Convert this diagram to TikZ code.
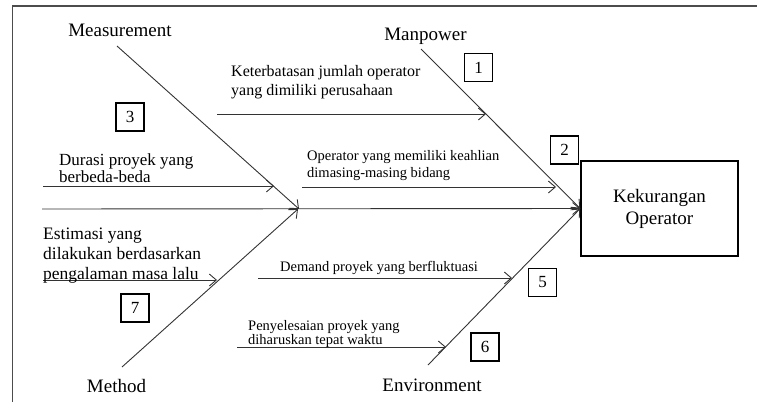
\documentclass[tikz,border=0pt]{standalone}
\usepackage{fontspec}
\setmainfont{Liberation Serif}
\usetikzlibrary{arrows.meta}
\begin{document}
\begin{tikzpicture}[x=1pt,y=-1pt,
  bone/.style={draw=black!80, line width=0.9pt},
  arr/.style={bone, -{Straight Barb[length=7pt,width=12pt]}},
  cat/.style={font=\fontsize{19}{22}\selectfont, inner sep=0pt, anchor=base},
  lbl/.style={inner sep=0pt, align=left, anchor=west},
  numbox/.style={draw, line width=1.3pt, minimum width=28pt, minimum height=28pt, inner sep=0pt, font=\fontsize{17}{17}\selectfont},
]
\useasboundingbox (0,0) rectangle (757,402);
% frame
\draw[line width=1.5pt, black!70] (12.5,402) -- (12.5,6) -- (757,6);

% effect box
\node[draw, line width=1.5pt, minimum width=157pt, minimum height=95pt, inner sep=0pt,
      align=center, font=\fontsize{19}{22}\selectfont] (effect) at (659.5,208.5) {Kekurangan\\Operator};

% category labels
\node[cat] (lmeas) at (120,36) {Measurement};
\node[cat] (lman) at (425.5,40) {Manpower};
\node[cat] (lmeth) at (116.5,392.5) {Method};
\node[cat] (lenv) at (432,391) {Environment};

% bone coordinates
\coordinate (s0) at (42,209);
\coordinate (meas0) at (117,46);
\coordinate (meas1) at (299,209);
\coordinate (meth0) at (122,367);
\coordinate (meth1) at (298,209);
\coordinate (man0) at (421,49);
\coordinate (env0) at (428,365);

% spine and bones
\draw[arr] (s0) -- (effect.west);
\draw[arr] (meas0) -- (meas1);
\draw[arr] (meth0) -- (meth1);
\draw[arr] (man0) -- (effect.west);
\draw[arr] (env0) -- (effect.west);

% cause arrows
\coordinate (k0) at (217,114);  \coordinate (k1) at (486,114);
\coordinate (o0) at (302,187);  \coordinate (o1) at (556,187);
\coordinate (d0) at (43,186);   \coordinate (d1) at (274,186);
\coordinate (e0) at (43,280);   \coordinate (e1) at (217,280);
\coordinate (m0) at (258,278);  \coordinate (m1) at (512,278);
\coordinate (p0) at (237,347);  \coordinate (p1) at (446,347);
\draw[arr] (k0) -- (k1);
\draw[arr] (o0) -- (o1);
\draw[arr] (d0) -- (d1);
\draw[arr] (e0) -- (e1);
\draw[arr] (m0) -- (m1);
\draw[arr] (p0) -- (p1);

% cause texts
\node[lbl, font=\fontsize{16}{18.3}\selectfont] (tk) at (231,82.2) {Keterbatasan jumlah operator\\yang dimiliki perusahaan};
\node[lbl, font=\fontsize{14.5}{16.5}\selectfont] (to) at (307,165.4) {Operator yang memiliki keahlian\\dimasing-masing bidang};
\node[lbl, font=\fontsize{17}{17.5}\selectfont] (td) at (59,168.2) {Durasi proyek yang\\berbeda-beda};
\node[lbl, font=\fontsize{17.5}{19.8}\selectfont] (te) at (43,255.4) {Estimasi yang\\dilakukan berdasarkan\\pengalaman masa lalu};
\node[inner sep=0pt, anchor=base west, font=\fontsize{14.5}{16}\selectfont] (tm) at (280,271) {Demand proyek yang berfluktuasi};
\node[lbl, font=\fontsize{14.5}{14.3}\selectfont] (tp) at (248,333.7) {Penyelesaian proyek yang\\diharuskan tepat waktu};

% number boxes
\node[numbox] (n1) at (478.5,67.5) {1};
\node[numbox] (n2) at (564.5,150) {2};
\node[numbox] (n3) at (130,117) {3};
\node[numbox] (n5) at (542.5,282.5) {5};
\node[numbox] (n6) at (485,347) {6};
\node[numbox] (n7) at (135,308) {7};
\end{tikzpicture}
\end{document}
